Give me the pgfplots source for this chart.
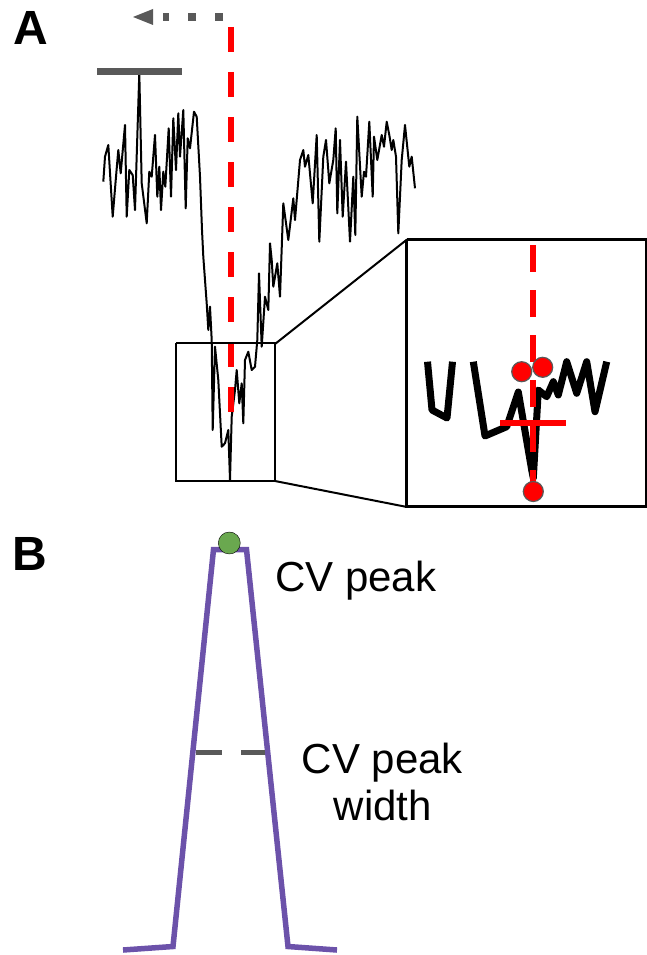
\documentclass[border=0pt]{standalone}
\usepackage{pgfplots}
\pgfplotsset{compat=1.18}
\usepackage{fontspec}
\setmainfont{Liberation Sans}
\definecolor{dgray}{RGB}{89,89,89}
\definecolor{pur}{RGB}{108,82,170}
\definecolor{grn}{RGB}{106,168,79}
\definecolor{rd}{RGB}{255,0,0}
\begin{document}
\begin{tikzpicture}
\begin{axis}[
  x=1pt, y=1pt, y dir=reverse,
  xmin=0, xmax=647, ymin=0, ymax=955,
  enlargelimits=false, axis lines=none, clip=false,
  every axis plot/.append style={line join=round, line cap=butt}
]
% signal trace
\addplot[black, line width=2pt, mark=none] coordinates {
(103.3,181.7)(105,156.7)(108.3,145)(112.7,216.7)(116,176.7)(118.3,150)(120.7,173.3)
(125,125)(126.7,216.7)(129.3,170)(132.7,175)(135,210)(139.3,73)(141.7,183.3)
(146.7,223.3)(149.3,171.7)(151.7,176.7)(155,135)(157.3,196.7)(159.3,166.7)(161,210)
(163.3,171.7)(165.3,186.7)(168.7,128.3)(171,196.7)(173.3,118.3)(176,170)(178.3,113.3)
(180,156.7)(183.3,110)(185.7,208.3)(187.7,138.3)(190,148.3)(194,111.7)(196.7,116.7)
(200,176.7)(202,230)(203.3,256.7)(206.7,303.3)(208.3,330)(210,306.7)(211.7,340)
(212.7,430)(215,346.7)(218.3,380)(221.7,446.7)(225,443.3)(228.3,430)(230,480)
(231.7,416.7)(235,390)(236.7,370)(239.3,403.3)(241.7,383.3)(243.3,423.3)(245,360)
(248.3,351.7)(251.7,370)(255,366.7)(257.3,340)(259,273.3)(261.7,346.7)(265,296.7)
(268.3,310)(270,243.3)(271.7,260)(273.3,286.7)(277.3,263.3)(280,296.7)(283.3,203.3)
(288.3,240)(293.3,198.3)(295,220)(300,160)(303.3,150)(305,166.7)(308.3,155)
(312.7,203.3)(316.7,135)(319.3,241.7)(323.3,156.7)(326,140)(329.3,183.3)(333.3,160)
(335.7,128.3)(337.3,213.3)(340,140)(342.7,216.7)(346,161.7)(350,241.7)(353.3,176.7)
(355.3,235)(357.3,116.7)(361.7,196.7)(364,171.7)(366,176.7)(369.3,121.7)(372.7,196.7)
(374,136.7)(377.3,160)(381.7,135)(384,146.7)(386.7,121.7)(389.3,135)(391.7,150)
(393.3,140)(396,156.7)(398.3,233.3)(401.7,160)(405,125)(409.3,166.7)(411.7,156.7)
(415,188.3)};
% gray bar at top
\addplot[dgray, line width=7pt] coordinates {(97,71.5)(182,71.5)};
% dotted arrow
\addplot[dgray, line width=8pt, dash pattern=on 8pt off 19pt] coordinates {(223,17)(163,17)};
\addplot[fill=dgray, draw=none] coordinates {(133,17)(153,9)(153,25)} -- cycle;
% red dashed line
\addplot[rd, line width=6pt, dash pattern=on 25pt off 20pt] coordinates {(230.5,27)(230.5,430)};
% small box
\addplot[black, line width=2pt, line join=miter] coordinates {(176,343)(275,343)(275,481)(176,481)(176,343)};
% connectors
\addplot[black, line width=2pt] coordinates {(275,344)(407,239.5)};
\addplot[black, line width=2pt] coordinates {(275,481)(407,507)};
% big inset box
\addplot[black, line width=2.5pt, line join=miter] coordinates {(406.5,239.5)(646,239.5)(646,506.5)(406.5,506.5)(406.5,239.5)};
% inset trace (thick)
\addplot[black, line width=7pt, line join=round] coordinates {(427.5,361.7)(432,410)(447,418)(452.5,361.7)};
\addplot[black, line width=7pt, line join=round] coordinates {(473.3,361.7)(485,436)(506.7,426.7)(518.3,392)(531.7,470)(533.3,478)(538.3,390)(546.7,396.7)(553.3,381.7)(558.3,395)(566.7,361.7)(576.7,393.3)(586.7,361.7)(595,411.7)(606.7,361.7)};
% inset red dashed
\addplot[rd, line width=6pt, dash pattern=on 27pt off 18pt] coordinates {(533.3,245)(533.3,487)};
\addplot[rd, line width=6pt] coordinates {(500,422.7)(565.7,422.7)};
\addplot[only marks, mark=*, mark size=10pt, mark options={fill=rd, draw=dgray, line width=1.2pt}] coordinates {(521.7,371.7)(542.7,367.3)(533.3,491.5)};
% panel B
\addplot[pur, line width=5.5pt, line join=miter] coordinates {(123,950)(173,946.5)(213.5,549.5)(246.5,549.5)(288,946.5)(337,950)};
\addplot[dgray, line width=5pt] coordinates {(196,752)(222,752)};
\addplot[dgray, line width=5pt] coordinates {(241,752)(265,752)};
\addplot[only marks, mark=*, mark size=11pt, mark options={fill=grn, draw=none}] coordinates {(229.3,543)};
% texts
\node[anchor=base west, inner sep=0pt, font=\fontsize{48}{56}\selectfont\bfseries] at (axis cs:13,45) {A};
\node[anchor=base west, inner sep=0pt, font=\fontsize{48}{56}\selectfont\bfseries] at (axis cs:12.5,570) {B};
\node[anchor=base west, inner sep=0pt, font=\fontsize{42}{50}\selectfont] at (axis cs:275,591.5) {CV peak};
\node[anchor=base, inner sep=0pt, font=\fontsize{42}{50}\selectfont] at (axis cs:382.5,773) {CV peak};
\node[anchor=base, inner sep=0pt, font=\fontsize{42}{50}\selectfont] at (axis cs:383,820) {width};
\end{axis}
\pgfresetboundingbox
\path (0,0) rectangle (647pt,955pt);
\end{tikzpicture}
\end{document}
